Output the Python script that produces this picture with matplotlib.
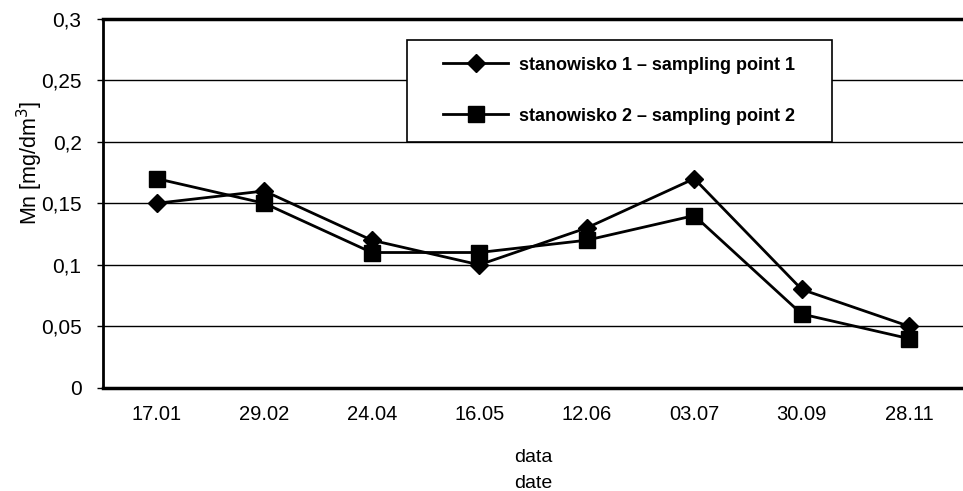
import matplotlib.pyplot as plt
from matplotlib.patches import Rectangle
from matplotlib.ticker import FixedLocator

plt.rcParams['font.family'] = ['Liberation Sans', 'DejaVu Sans']

dates = ["17.01", "29.02", "24.04", "16.05", "12.06", "03.07", "30.09", "28.11"]
point1 = [0.15, 0.16, 0.12, 0.10, 0.13, 0.17, 0.08, 0.05]
point2 = [0.17, 0.15, 0.11, 0.11, 0.12, 0.14, 0.06, 0.04]
yticks = [0, 0.05, 0.1, 0.15, 0.2, 0.25, 0.3]
ylabels = ["0", "0,05", "0,1", "0,15", "0,2", "0,25", "0,3"]

fig = plt.figure(figsize=(9.63, 4.91), dpi=100)
ax = fig.add_axes([0.107, 0.21, 0.893, 0.752])

x = range(len(dates))
ax.plot(x, point1, color='black', lw=2, marker='D', ms=9,
        label="stanowisko 1 \u2013 sampling point 1", zorder=3)
ax.plot(x, point2, color='black', lw=2, marker='s', ms=11,
        label="stanowisko 2 \u2013 sampling point 2", zorder=3)

ax.set_xlim(-0.5, len(dates) - 0.5)
ax.set_ylim(0, 0.3)
ax.yaxis.set_major_locator(FixedLocator(yticks))
ax.set_yticklabels(ylabels, fontsize=15)
ax.set_xticks(list(x))
ax.set_xticklabels(dates, fontsize=14.5)
ax.tick_params(axis='x', length=0, pad=12)
ax.tick_params(axis='y', length=4.5, width=1, pad=11)
ax.grid(axis='y', color='black', lw=1)
ax.set_axisbelow(True)

ax.spines['right'].set_visible(False)
ax.spines['top'].set_linewidth(2.5)
ax.spines['bottom'].set_linewidth(2.5)
ax.spines['left'].set_linewidth(2)

ax.set_ylabel("Mn [mg/dm$^3$]", fontsize=15.5)
ax.yaxis.set_label_coords(-0.068, 0.61)
ax.set_xlabel("data\ndate", fontsize=14, labelpad=18, linespacing=1.75)

# white legend box drawn over the gridlines
box = Rectangle((0.353, 0.667), 0.495, 0.276, transform=ax.transAxes,
                facecolor='white', edgecolor='black', lw=1.2, zorder=4)
ax.add_patch(box)

leg = ax.legend(loc='center', bbox_to_anchor=(0.6, 0.805), fontsize=13,
                frameon=False, labelspacing=1.9, handlelength=3.6,
                handletextpad=0.6, borderaxespad=0)
leg.set_zorder(5)
for t in leg.get_texts():
    t.set_fontweight('bold')

fig.savefig("out.png", dpi=100)
